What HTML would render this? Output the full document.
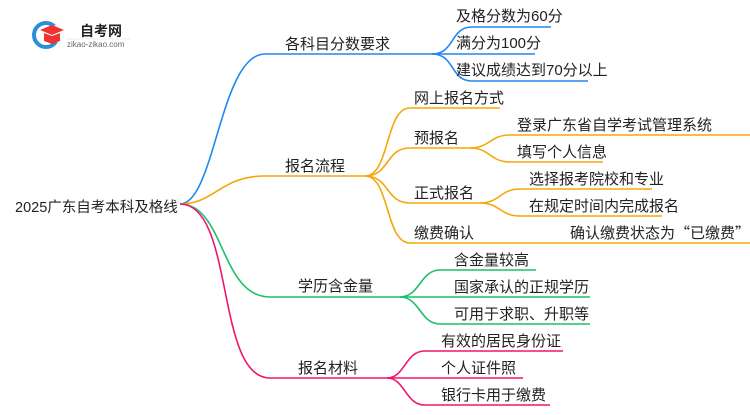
<!DOCTYPE html>
<html><head><meta charset="utf-8"><style>
body{margin:0;background:#fff;width:750px;height:410px;overflow:hidden}
svg text{font-family:"Liberation Sans","Noto Sans CJK SC",sans-serif;font-size:15px;fill:#222}
.q{font-family:"Noto Sans CJK SC",sans-serif}
</style></head><body>
<svg width="750" height="410" viewBox="0 0 750 410" xmlns="http://www.w3.org/2000/svg">
<g fill="none" stroke-width="1.6">
<g stroke="#1e88f0">
<path d="M180,204 C215,204 220,54 265,54 L432,54"/>
<path d="M432,54 C455,54 450,27 472,27 L551,27"/>
<path d="M432,54 L535,54"/>
<path d="M432,54 C455,54 450,81 472,81 L588,81"/>
</g>
<g stroke="#f5a60a">
<path d="M180,204 C215,204 220,176 265,176 L365,176"/>
<path d="M365,176 C390,176 385,108 410,108 L500,108"/>
<path d="M365,176 C390,176 385,148 410,148 L470,148"/>
<path d="M470,148 C490,148 490,135 510,135 L750,135"/>
<path d="M470,148 C490,148 490,162 510,162 L603,162"/>
<path d="M365,176 C390,176 385,203 410,203 L480,203"/>
<path d="M480,203 C500,203 500,189 520,189 L652,189"/>
<path d="M480,203 C500,203 500,216 520,216 L662,216"/>
<path d="M365,176 C390,176 385,243 410,243 L750,243"/>
</g>
<g stroke="#1dbf6a">
<path d="M180,204 C225,204 220,297 270,297 L400,297"/>
<path d="M400,297 C420,297 420,270 440,270 L536,270"/>
<path d="M400,297 L590,297"/>
<path d="M400,297 C420,297 420,324 440,324 L590,324"/>
</g>
<g stroke="#f0156e">
<path d="M180,204 C235,204 215,378 270,378 L387,378"/>
<path d="M387,378 C405,378 405,351 425,351 L563,351"/>
<path d="M387,378 L523,378"/>
<path d="M387,378 C405,378 405,405 425,405 L550,405"/>
</g>
</g>
<circle cx="46" cy="35" r="12" fill="none" stroke="#2a8fd8" stroke-width="4"/>
<polygon points="42,29 60,24 60,42 42,44" fill="#fff"/>
<polygon points="40,30 52,25 64,30 52,35" fill="#e33"/>
<path d="M44,33 L44,41 L52,44 L60,41 L60,33 L52,36 Z" fill="#e33"/>
<text x="80" y="36" style="font-size:14px;font-weight:bold">自考网</text>
<text x="67" y="47" style="font-size:8px;fill:#666">zikao-zikao.com</text>
<line x1="66" y1="39" x2="130" y2="39" stroke="#ddd" stroke-width="0.6"/>
<text x="15" y="212" style="font-size:14.5px">2025广东自考本科及格线</text>
<text x="285" y="49">各科目分数要求</text>
<text x="456" y="21">及格分数为60分</text>
<text x="456" y="48">满分为100分</text>
<text x="456" y="75">建议成绩达到70分以上</text>
<text x="285" y="171">报名流程</text>
<text x="414" y="103">网上报名方式</text>
<text x="414" y="143">预报名</text>
<text x="517" y="130">登录广东省自学考试管理系统</text>
<text x="517" y="157">填写个人信息</text>
<text x="414" y="198">正式报名</text>
<text x="529" y="184">选择报考院校和专业</text>
<text x="529" y="211">在规定时间内完成报名</text>
<text x="414" y="238">缴费确认</text>
<text x="570" y="238">确认缴费状态为<tspan class="q">“</tspan>已缴费<tspan class="q">”</tspan></text>
<text x="298" y="291">学历含金量</text>
<text x="454" y="265">含金量较高</text>
<text x="454" y="292">国家承认的正规学历</text>
<text x="454" y="319">可用于求职、升职等</text>
<text x="298" y="373">报名材料</text>
<text x="441" y="346">有效的居民身份证</text>
<text x="441" y="373">个人证件照</text>
<text x="441" y="400">银行卡用于缴费</text>
</svg>
</body></html>
